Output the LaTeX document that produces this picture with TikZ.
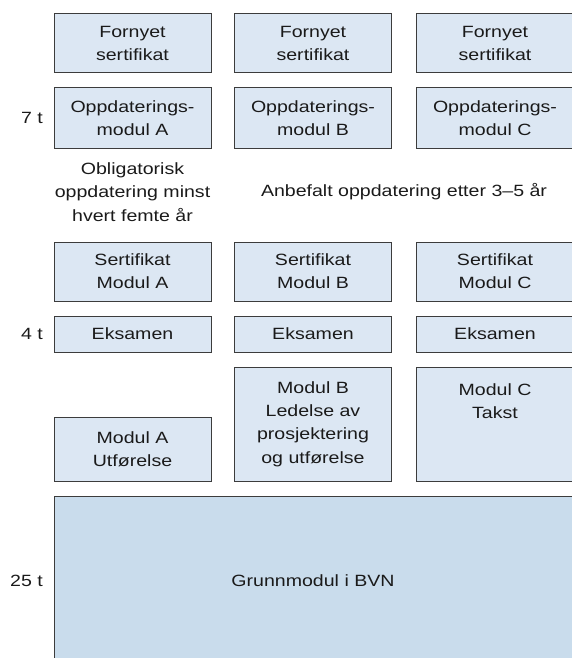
\documentclass[tikz,border=0pt]{standalone}
\usepackage{fontspec}
\setmainfont{Liberation Sans}[FakeStretch=1.2]
\definecolor{boxfill}{HTML}{DCE7F3}
\definecolor{bigfill}{HTML}{C9DCEC}
\definecolor{boxline}{HTML}{3C3C3C}
\definecolor{txt}{HTML}{1A1A1A}
\begin{document}
\begin{tikzpicture}[x=1pt,y=-1pt,
  every node/.style={text=txt, font=\fontsize{16.3}{23.3}\selectfont, align=center, inner sep=0pt},
  mbox/.style={draw=boxline, fill=boxfill, line width=1pt, minimum width=157pt},
  bigbox/.style={draw=boxline, fill=bigfill, line width=1pt},
  side/.style={anchor=east}]
\useasboundingbox (0,0) rectangle (572,658);
\clip (0,0) rectangle (572,658);
% top row: Fornyet sertifikat (y 14-73)
\node[mbox, minimum height=59pt] (fa) at (132.5,43.5) {Fornyet\\sertifikat};
\node[mbox, minimum height=59pt] (fb) at (313,43.5) {Fornyet\\sertifikat};
\node[mbox, minimum height=59pt] (fc) at (495,43.5) {Fornyet\\sertifikat};
% Oppdateringsmodul (y 88-148)
\node[mbox, minimum height=60pt] (oa) at (132.5,118) {Oppdaterings-\\modul A};
\node[mbox, minimum height=60pt] (ob) at (313,118) {Oppdaterings-\\modul B};
\node[mbox, minimum height=60pt] (oc) at (495,118) {Oppdaterings-\\modul C};
\node[side] (t7) at (43,118) {7 t};
% notes
\node (oblig) at (132.5,192) {Obligatorisk\\oppdatering minst\\hvert femte år};
\node (anbef) at (404,192) {Anbefalt oppdatering etter 3–5 år};
% Sertifikat (y 242-301)
\node[mbox, minimum height=59pt] (sa) at (132.5,271.5) {Sertifikat\\Modul A};
\node[mbox, minimum height=59pt] (sb) at (313,271.5) {Sertifikat\\Modul B};
\node[mbox, minimum height=59pt] (sc) at (495,271.5) {Sertifikat\\Modul C};
% Eksamen (y 316-352)
\node[mbox, minimum height=36pt] (ea) at (132.5,334) {Eksamen};
\node[mbox, minimum height=36pt] (eb) at (313,334) {Eksamen};
\node[mbox, minimum height=36pt] (ec) at (495,334) {Eksamen};
\node[side] (t4) at (43,334) {4 t};
% Modules
\node[mbox, minimum height=64pt] (ma) at (132.5,449) {Modul A\\Utførelse};
\node[mbox, minimum height=114pt] (mb) at (313,424) {Modul B\\Ledelse av\\prosjektering\\og utførelse};
\node[mbox, minimum height=114pt] (mc) at (495,424) {};
\node (mctext) at (495,401) {Modul C\\Takst};
% Grunnmodul
\node[bigbox, minimum width=520pt, minimum height=180pt] (gm) at (314,586) {};
\node (gmtext) at (313,581) {Grunnmodul i BVN};
\node[side] (t25) at (43,581) {25 t};
\end{tikzpicture}
\end{document}
